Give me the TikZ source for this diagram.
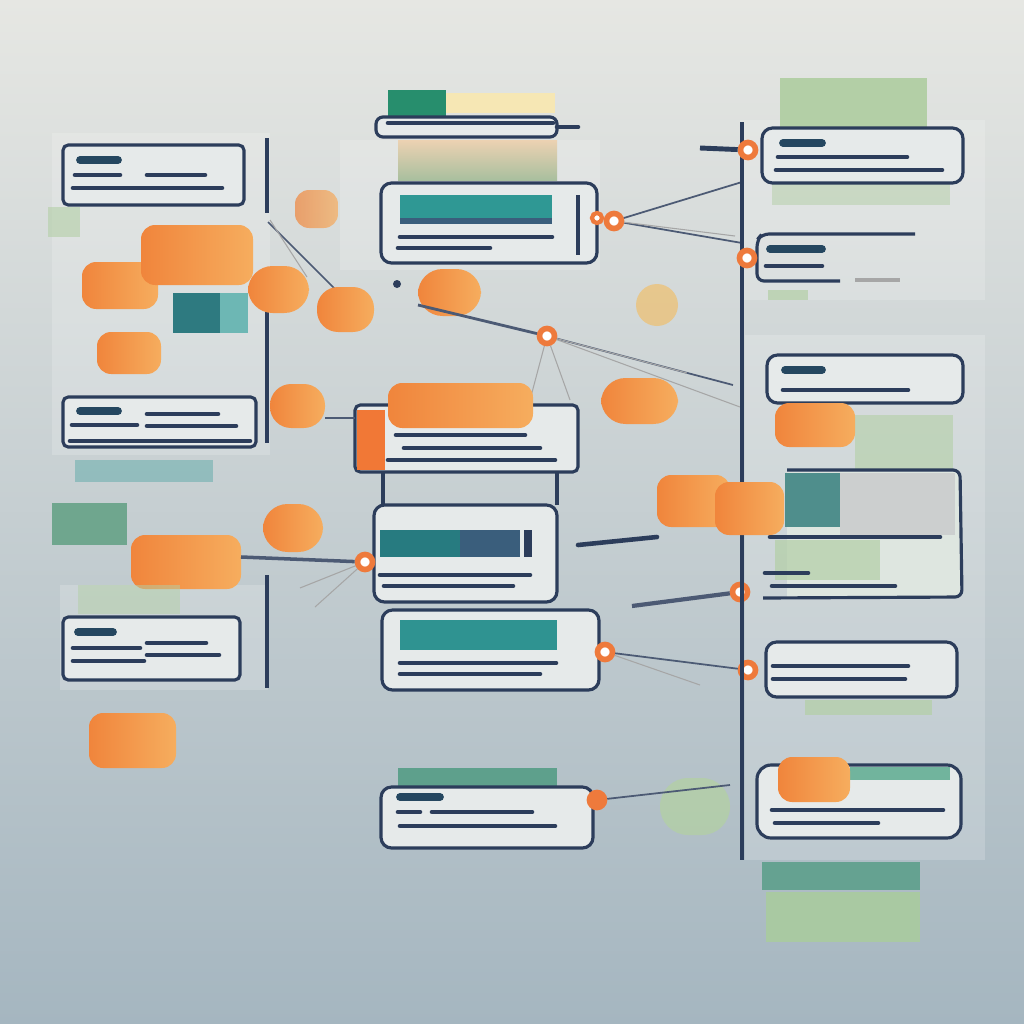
\documentclass[tikz,border=0pt]{standalone}
\usepackage{tikz}
\definecolor{navy}{HTML}{2C3D5B}
\definecolor{cardbg}{HTML}{E6EAEA}
\definecolor{orA}{HTML}{F0853C}
\definecolor{orB}{HTML}{F6AD5E}
\definecolor{tealD}{HTML}{2E7A80}
\definecolor{tealM}{HTML}{2F9894}
\definecolor{tealS}{HTML}{3A5E7C}
\definecolor{grn}{HTML}{6FA68E}
\definecolor{lgrn}{HTML}{B3CFA6}
\definecolor{yel}{HTML}{F6E7B4}
\definecolor{pinc}{HTML}{EE7A3C}
\definecolor{bgA}{HTML}{E6E7E3}
\definecolor{bgM}{HTML}{D8DEDE}
\definecolor{bgB}{HTML}{A5B6C0}

\begin{document}
\begin{tikzpicture}[x=0.01cm,y=-0.01cm,
  card/.style={draw=navy,line width=0.9pt,fill=cardbg,rounded corners=1.5pt},
  frame/.style={draw=navy,line width=0.9pt,rounded corners=2pt},
  bar/.style={navy,line width=1.3pt,line cap=round},
  sbar/.style={navy!85!teal,line width=2.2pt,line cap=round},
  blob/.style={left color=orA,right color=orB,rounded corners=4pt},
  wire/.style={navy!85,line width=0.5pt},
  faint/.style={gray!70,line width=0.3pt},
  pin/.style={circle,draw=pinc,fill=white,line width=1.6pt,inner sep=0pt,minimum size=0.15cm},
  glow/.style={fill=white,opacity=0.18}]
\useasboundingbox (0,0) rectangle (1024,1024);
\shade[top color=bgA,middle color=bgM,bottom color=bgB] (0,0) rectangle (1024,1024);
\fill[glow] (52,133) rectangle (270,455);
\fill[glow] (60,585) rectangle (268,690);
\fill[glow] (340,140) rectangle (600,270);
\fill[glow] (740,120) rectangle (985,300);
\fill[glow] (745,335) rectangle (985,860);

% left column
\fill[lgrn,opacity=.6] (48,207) rectangle (80,237);
\draw[card] (63,145) rectangle (244,205);
\draw[sbar] (80,160) -- (118,160);
\draw[bar] (75,175) -- (120,175); \draw[bar] (147,175) -- (205,175);
\draw[bar] (73,188) -- (222,188);
\draw[navy,line width=0.9pt] (267,138) -- (267,213);
\draw[navy,line width=0.9pt] (267,308) -- (267,443);
\coordinate (l1) at (268,222);
\coordinate (b5) at (336,290);
\draw[wire] (l1) -- (b5);
\draw[faint] (270,220) -- (307,277);
\shade[blob,opacity=.7] (295,190) rectangle (338,228);
\shade[blob] (82,262) rectangle (158,309);
\shade[blob] (141,225) rectangle (253,285);
\shade[blob,rounded corners=7pt] (248,266) rectangle (309,313);
\shade[blob,rounded corners=6pt] (317,287) rectangle (374,332);
\shade[blob] (97,332) rectangle (161,374);
\shade[blob,rounded corners=6pt] (270,384) rectangle (325,428);
\fill[tealD] (173,293) rectangle (220,333);
\fill[tealM!70!white] (220,293) rectangle (248,333);
\draw[card] (63,397) rectangle (256,447);
\draw[sbar] (80,411) -- (118,411);
\draw[bar] (147,414) -- (218,414);
\draw[bar] (72,425) -- (137,425); \draw[bar] (147,426) -- (236,426);
\draw[bar] (70,441) -- (250,441);
\fill[tealM,opacity=.35] (75,460) rectangle (213,482);
\fill[grn] (52,503) rectangle (127,545);
\shade[blob,rounded corners=7pt] (263,504) rectangle (323,552);
\shade[blob] (131,535) rectangle (241,589);
\fill[lgrn,opacity=.5] (78,585) rectangle (180,614);
\draw[card] (63,617) rectangle (240,680);
\draw[sbar] (78,632) -- (113,632);
\draw[bar] (147,643) -- (206,643);
\draw[bar] (73,648) -- (140,648);
\draw[bar] (147,655) -- (219,655);
\draw[bar] (73,661) -- (144,661);
\draw[navy,line width=0.9pt] (267,575) -- (267,688);
\shade[blob] (89,713) rectangle (176,768);

% middle column
\fill[tealD!85!green] (388,90) rectangle (446,116);
\fill[yel] (446,93) rectangle (555,113);
\draw[frame,fill=cardbg] (376,117) rectangle (557,137);
\draw[bar] (388,123) -- (553,123);
\draw[bar] (557,127) -- (578,127);
\shade[top color=orB!40!cardbg,bottom color=lgrn!80!gray] (398,140) rectangle (557,180);
\draw[frame,fill=cardbg,rounded corners=3pt] (381,183) rectangle (597,263);
\fill[tealM] (400,195) rectangle (552,218);
\fill[tealS] (400,218) rectangle (552,224);
\draw[bar] (400,237) -- (552,237);
\draw[bar] (398,248) -- (490,248);
\draw[navy,line width=1.2pt] (578,195) -- (578,255);
\node[pin,minimum size=0.1cm,line width=1.2pt] (d2b) at (597,218) {};
\node[pin] (d2) at (614,221) {};
\coordinate (s1) at (742,182);
\coordinate (s2) at (742,243);
\draw[wire] (d2) -- (s1);
\draw[wire] (d2) -- (s2);
\draw[faint] (d2) -- (735,236);
\shade[blob,rounded corners=7pt] (418,269) rectangle (481,316);
\fill[orB!85!yellow,opacity=.55] (657,305) circle (21);
\fill[navy] (397,284) circle (4);
\node[pin] (d3) at (547,336) {};
\coordinate (m1) at (418,305);
\draw[wire,line width=0.8pt] (m1) -- (d3);
\coordinate (s3) at (733,385);
\coordinate (s4) at (740,407);
\draw[wire] (d3) -- (s3);
\draw[faint] (d3) -- (s4);
\draw[faint] (d3) -- (687,373);
\draw[faint] (d3) -- (530,400);
\draw[faint] (d3) -- (570,400);
\shade[blob,rounded corners=7pt] (601,378) rectangle (678,424);
\draw[card] (355,405) rectangle (578,472);
\shade[blob] (388,383) rectangle (533,428);
\fill[orA!90!red] (357,410) rectangle (385,470);
\draw[bar] (396,435) -- (525,435);
\draw[bar] (404,448) -- (540,448);
\draw[bar] (388,460) -- (555,460);
\coordinate (b7) at (325,418);
\coordinate (m2) at (355,418);
\draw[wire] (b7) -- (m2);
\draw[navy,line width=0.9pt] (383,472) -- (383,505);
\draw[navy,line width=0.9pt] (557,472) -- (557,505);
\draw[card,rounded corners=3pt] (374,505) rectangle (557,602);
\fill[tealD!85!teal] (380,530) rectangle (460,557);
\fill[tealS] (460,530) rectangle (520,557);
\draw[navy,line width=2pt] (528,530) -- (528,557);
\draw[bar] (380,575) -- (530,575);
\draw[bar] (384,586) -- (513,586);
\node[pin] (d1) at (365,562) {};
\coordinate (b9) at (241,557);
\draw[wire,line width=1pt] (b9) -- (d1);
\draw[faint] (d1) -- (300,588);
\draw[faint] (d1) -- (315,607);
\draw[bar] (578,545) -- (657,537);
\draw[card,rounded corners=3pt] (382,610) rectangle (599,690);
\fill[tealM!85!tealD] (400,620) rectangle (557,650);
\draw[bar] (400,663) -- (556,663);
\draw[bar] (400,674) -- (540,674);
\node[pin] (d4) at (605,652) {};
\node[pin] (d9) at (748,670) {};
\draw[wire] (d4) -- (d9);
\draw[faint] (d4) -- (700,685);
\node[pin] (d5) at (740,592) {};
\coordinate (m4) at (632,606);
\draw[wire,line width=1.2pt] (m4) -- (d5);
\fill[lgrn,opacity=.8,rounded corners=8pt] (660,778) rectangle (730,835);
\fill[grn!85!teal] (398,768) rectangle (557,788);
\draw[card,rounded corners=3pt] (381,787) rectangle (593,848);
\draw[sbar] (400,797) -- (440,797);
\draw[bar] (398,812) -- (420,812); \draw[bar] (432,812) -- (532,812);
\draw[bar] (400,826) -- (555,826);
\node[pin,fill=pinc] (d6) at (597,800) {};
\coordinate (s6) at (730,785);
\draw[wire] (d6) -- (s6);

% right column
\draw[navy,line width=1pt] (742,122) -- (742,860);
\fill[lgrn] (780,78) rectangle (927,127);
\fill[lgrn,opacity=.5] (772,183) rectangle (950,205);
\draw[card,rounded corners=3pt] (762,128) rectangle (963,183);
\draw[sbar] (783,143) -- (822,143);
\draw[bar] (778,157) -- (907,157);
\draw[bar] (776,170) -- (942,170);
\node[pin] (d7) at (748,150) {};
\coordinate (r1) at (700,148);
\draw[navy,line width=1.4pt] (r1) -- (d7);
\draw[frame] (915,234) -- (762,234) -- (757,240) -- (757,281) -- (840,281);
\draw[sbar] (770,249) -- (822,249);
\draw[bar] (766,266) -- (822,266);
\draw[faint,line width=1pt] (855,280) -- (900,280);
\fill[lgrn,opacity=.7] (768,290) rectangle (808,300);
\node[pin] (d8) at (747,258) {};
\fill[lgrn,opacity=.6] (855,415) rectangle (953,470);
\draw[card,rounded corners=3pt] (767,355) rectangle (963,403);
\draw[sbar] (785,370) -- (822,370);
\draw[bar] (783,390) -- (908,390);
\shade[blob] (775,403) rectangle (855,447);
\fill[cardbg!85!lgrn] (787,472) rectangle (960,597);
\fill[lgrn,opacity=.7] (775,540) rectangle (880,580);
\fill[tealM!60!gray] (785,473) rectangle (840,527);
\fill[gray!25!cardbg] (840,473) rectangle (955,535);
\draw[frame] (787,470) -- (960,470) -- (962,597) -- (763,598);
\draw[bar] (770,537) -- (940,537);
\draw[bar] (765,573) -- (808,573);
\draw[bar] (772,586) -- (895,586);
\shade[blob] (657,475) rectangle (730,527);
\shade[blob] (715,482) rectangle (784,535);
\fill[lgrn,opacity=.7] (805,700) rectangle (932,715);
\draw[card,rounded corners=3pt] (766,642) rectangle (957,697);
\draw[bar] (773,666) -- (908,666);
\draw[bar] (773,679) -- (905,679);
\draw[frame,fill=cardbg,rounded corners=4pt] (757,765) rectangle (961,838);
\fill[tealM!50!lgrn] (850,767) rectangle (950,780);
\shade[blob] (778,757) rectangle (850,802);
\draw[bar] (772,810) -- (943,810);
\draw[bar] (775,823) -- (878,823);
\fill[grn!85!teal,opacity=.9] (762,862) rectangle (920,890);
\fill[lgrn!85!grn] (766,892) rectangle (920,942);
\end{tikzpicture}
\end{document}
